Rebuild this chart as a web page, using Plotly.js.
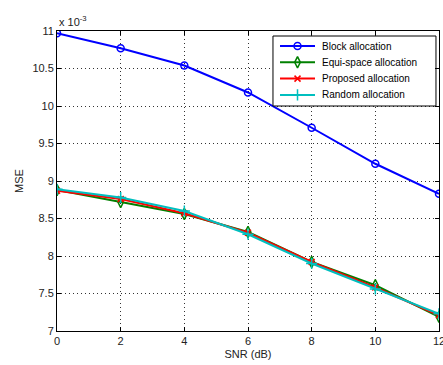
<!DOCTYPE html>
<html><head><meta charset="utf-8">
<script src="https://cdn.plot.ly/plotly-3.0.1.min.js"></script>
<style>html,body{margin:0;padding:0;background:#fff}#c{width:443px;height:365px}</style>
</head><body><div id="c"></div>
<script>
// MSE values in units of 1e-3
const snr = [0, 2, 4, 6, 8, 10, 12];
const blockAlloc = [10.97, 10.77, 10.54, 10.18, 9.71, 9.23, 8.83];
const equiAlloc = [8.88, 8.72, 8.56, 8.32, 7.92, 7.61, 7.19];
const proposedAlloc = [8.87, 8.76, 8.57, 8.31, 7.92, 7.58, 7.21];
const randomAlloc = [8.89, 8.78, 8.60, 8.29, 7.90, 7.56, 7.23];
const names = ["Block allocation", "Equi-space allocation", "Proposed allocation", "Random allocation"];
const xTicks = [0, 2, 4, 6, 8, 10, 12];
const yTicks = [7, 7.5, 8, 8.5, 9, 9.5, 10, 10.5, 11];
const yTickText = ["7", "7.5", "8", "8.5", "9", "9.5", "10", "10.5", "11"];

const font = "Liberation Sans, Arial, Helvetica, sans-serif";
const colors = ["#0000ff", "#008000", "#ff0000", "#00bfbf"];
const symbols = ["circle-open", "diamond-tall-open", "x-thin-open", "cross-thin-open"];
const msizes = [7, 8, 6, 8];
const series = [blockAlloc, equiAlloc, proposedAlloc, randomAlloc];

const data = series.map((y, i) => ({
  x: snr, y: y, name: names[i], type: "scatter", mode: "lines+markers", showlegend: false,
  line: {color: colors[i], width: 2},
  marker: {symbol: symbols[i], size: msizes[i], color: colors[i], line: {color: colors[i], width: 1.5}}
}));

// custom MATLAB-style legend (in 0..1 overlay axes)
const box = {x0: 0.5654, x1: 0.9921, y0: 0.75, y1: 0.9833};
const rowY = [0.95, 0.8957, 0.8413, 0.787];
const lx0 = 0.5838, lx1 = 0.6754, lxm = 0.6296, tx = 0.6885;
data.push({x: [box.x0, box.x1, box.x1, box.x0, box.x0], y: [box.y0, box.y0, box.y1, box.y1, box.y0],
  xaxis: "x2", yaxis: "y2", type: "scatter", mode: "lines", fill: "toself", fillcolor: "#fff",
  line: {color: "#000", width: 1}, showlegend: false, hoverinfo: "skip"});
names.forEach((n, i) => {
  data.push({x: [lx0, lx1], y: [rowY[i], rowY[i]], xaxis: "x2", yaxis: "y2", type: "scatter",
    mode: "lines", line: {color: colors[i], width: 2}, showlegend: false, hoverinfo: "skip"});
  data.push({x: [lxm], y: [rowY[i]], xaxis: "x2", yaxis: "y2", type: "scatter", mode: "markers",
    marker: {symbol: symbols[i], size: msizes[i], color: colors[i], line: {color: colors[i], width: 1.5}},
    showlegend: false, hoverinfo: "skip"});
});
const legendAnn = names.map((n, i) => ({xref: "paper", yref: "paper", x: tx, y: rowY[i],
  xanchor: "left", yanchor: "middle", text: n, showarrow: false,
  font: {family: font, size: 10, color: "#000"}}));

const axisCommon = {showline: true, linecolor: "#000", linewidth: 1, mirror: "allticks",
  ticks: "inside", ticklen: 4, tickcolor: "#000", showgrid: true,
  gridcolor: "#333", griddash: "1px,3px", gridwidth: 1, zeroline: false,
  tickfont: {family: font, size: 11, color: "#222"}};
const layout = {
  width: 443, height: 365,
  margin: {l: 57, r: 4, t: 31, b: 34},
  paper_bgcolor: "#fff", plot_bgcolor: "#fff",
  font: {family: font, size: 11, color: "#222"},
  showlegend: false,
  xaxis: Object.assign({}, axisCommon, {range: [0, 12], tickvals: xTicks, ticklabeloverflow: "allow",
    title: {text: "SNR (dB)", font: {family: font, size: 11, color: "#222"}, standoff: 4}}),
  yaxis: Object.assign({}, axisCommon, {range: [7, 11], tickvals: yTicks, ticktext: yTickText,
    title: {text: "MSE", font: {family: font, size: 11, color: "#222"}, standoff: 6}}),
  xaxis2: {overlaying: "x", range: [0, 1], visible: false, fixedrange: true},
  yaxis2: {overlaying: "y", range: [0, 1], visible: false, fixedrange: true},
  annotations: [{xref: "paper", yref: "paper", x: 0, y: 1, xanchor: "left", yanchor: "bottom",
    text: "x 10<sup>-3</sup>", showarrow: false, yshift: 1,
    font: {family: font, size: 11, color: "#222"}}].concat(legendAnn)
};
Plotly.newPlot("c", data, layout, {displayModeBar: false, staticPlot: true});
</script></body></html>
